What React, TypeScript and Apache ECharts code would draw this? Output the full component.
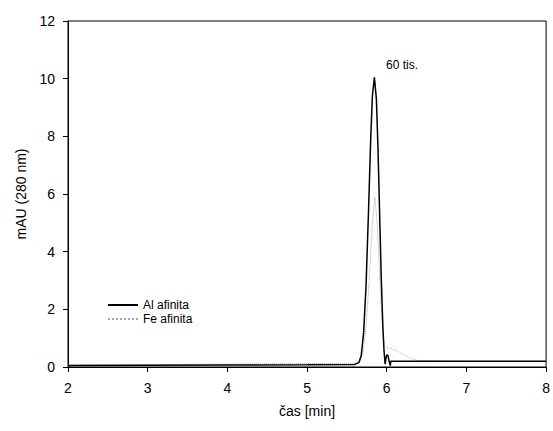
import React, { useEffect, useRef } from "react";
import * as echarts from "echarts";

const alTime = [2, 3, 4, 5, 5.6, 5.65, 5.68, 5.71, 5.74, 5.77, 5.8, 5.82, 5.845, 5.87, 5.89, 5.91, 5.93, 5.95, 5.965, 5.98, 5.99, 6.0, 6.015, 6.03, 6.045, 6.05, 6.06, 7, 8];
const alValues = [0.05, 0.06, 0.07, 0.08, 0.09, 0.15, 0.4, 1.2, 2.8, 5.3, 8.0, 9.4, 10.05, 9.3, 7.6, 5.4, 3.2, 1.5, 0.6, 0.1, 0.3, 0.42, 0.4, 0.2, 0.05, 0.2, 0.2, 0.2, 0.2];

const feTime = [2, 3, 4, 5, 5.6, 5.66, 5.7, 5.74, 5.78, 5.82, 5.85, 5.88, 5.91, 5.94, 5.97, 6.0, 6.1, 6.2, 6.3, 6.4, 7, 8];
const feValues = [0.07, 0.08, 0.1, 0.12, 0.13, 0.2, 0.5, 1.4, 3.0, 5.0, 5.9, 5.0, 3.2, 1.6, 0.75, 0.68, 0.6, 0.45, 0.3, 0.22, 0.2, 0.2];

const xTicks = [2, 8, 1];
const yTicks = [0, 12, 2];

export default function App() {
  const ref = useRef<HTMLDivElement>(null);
  useEffect(() => {
    const chart = echarts.init(ref.current!, null, { renderer: "svg" });
    const font = "Liberation Sans, Arial, sans-serif";
    chart.setOption({
      animation: false,
      backgroundColor: "#fff",
      grid: { left: 68, right: 6, top: 21, bottom: 64, show: true, borderColor: "#000", borderWidth: 1 },
      xAxis: {
        type: "value",
        min: xTicks[0],
        max: xTicks[1],
        interval: xTicks[2],
        name: "čas [min]",
        nameLocation: "middle",
        nameGap: 37,
        nameTextStyle: { fontFamily: font, fontSize: 14, color: "#000" },
        axisLine: { lineStyle: { color: "#000", width: 1 } },
        axisTick: { show: true, length: 5, lineStyle: { color: "#000" } },
        axisLabel: { fontFamily: font, fontSize: 14, color: "#000", margin: 14 },
        splitLine: { show: false },
      },
      yAxis: {
        type: "value",
        min: yTicks[0],
        max: yTicks[1],
        interval: yTicks[2],
        name: "mAU (280 nm)",
        nameLocation: "middle",
        nameGap: 40,
        nameTextStyle: { fontFamily: font, fontSize: 14, color: "#000" },
        axisLine: { show: true, lineStyle: { color: "#000", width: 1 } },
        axisTick: { show: true, length: 5, lineStyle: { color: "#000" } },
        axisLabel: { fontFamily: font, fontSize: 14, color: "#000", margin: 13 },
        splitLine: { show: false },
      },
      legend: {
        left: 102,
        top: 294,
        orient: "vertical",
        itemWidth: 30,
        itemHeight: 14,
        itemGap: 2,
        itemStyle: { opacity: 0, borderWidth: 0 },
        textStyle: { fontFamily: font, fontSize: 12, color: "#000" },
        data: ["Al afinita", "Fe afinita"],
      },
      graphic: [
        {
          type: "text",
          left: 386,
          top: 59,
          style: { text: "60 tis.", fontFamily: font, fontSize: 12, fill: "#000" },
        },
      ],
      series: [
        {
          name: "Fe afinita",
          type: "line",
          showSymbol: false,
          symbol: "none",
          color: "#a8a8a8",
          lineStyle: { color: "#a8a8a8", width: 1, type: "dotted" },
          data: feTime.map((t, i) => [t, feValues[i]]),
          z: 2,
        },
        {
          name: "Al afinita",
          type: "line",
          showSymbol: false,
          symbol: "none",
          color: "#000",
          lineStyle: { color: "#000", width: 1.5 },
          data: alTime.map((t, i) => [t, alValues[i]]),
          z: 3,
        },
      ],
    });
    return () => chart.dispose();
  }, []);
  return <div ref={ref} style={{ width: 553, height: 431, position: "absolute", left: 0, top: 0 }} />;
}
